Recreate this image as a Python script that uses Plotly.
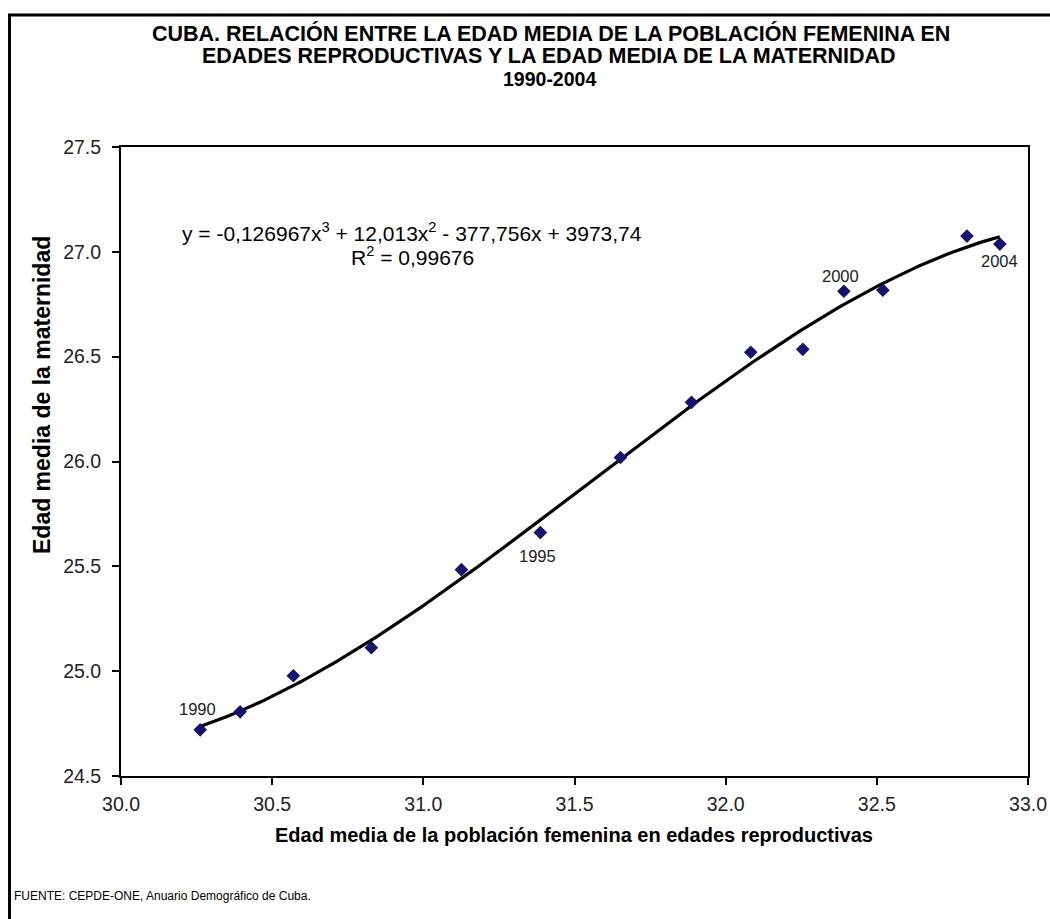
import numpy as np
import plotly.graph_objects as go

# Data
edad_fem = [30.262, 30.394, 30.570, 30.828, 31.126, 31.387, 31.652, 31.887,
            32.083, 32.255, 32.391, 32.520, 32.798, 32.907]
edad_mat = [24.720, 24.806, 24.978, 25.112, 25.484, 25.661, 26.019, 26.282,
            26.521, 26.535, 26.812, 26.817, 27.075, 27.037]
etiquetas = ["1990", "", "", "", "", "1995", "", "", "", "", "2000", "", "", "2004"]

x_ticks = [30.0, 30.5, 31.0, 31.5, 32.0, 32.5, 33.0]
y_ticks = [24.5, 25.0, 25.5, 26.0, 26.5, 27.0, 27.5]

titulo = ["CUBA. RELACIÓN ENTRE LA EDAD MEDIA DE LA POBLACIÓN FEMENINA EN",
          "EDADES REPRODUCTIVAS Y LA EDAD MEDIA DE LA MATERNIDAD",
          "1990-2004"]
ecuacion = ["y = -0,126967x<sup>3</sup> + 12,013x<sup>2</sup> - 377,756x + 3973,74",
            "R<sup>2</sup> = 0,99676"]
titulo_x = "Edad media de la población femenina en edades reproductivas"
titulo_y = "Edad media de la maternidad"
fuente = "FUENTE: CEPDE-ONE, Anuario Demográfico de Cuba."

FONT = "Liberation Sans, Arial, sans-serif"

# Cubic trendline (as Excel does) fitted to the data
coef = np.polyfit(edad_fem, edad_mat, 3)
xs = np.linspace(min(edad_fem), max(edad_fem), 200)
ys = np.polyval(coef, xs)

fig = go.Figure()
fig.add_trace(go.Scatter(x=xs, y=ys, mode="lines",
                         line=dict(color="black", width=3.2), hoverinfo="skip"))
fig.add_trace(go.Scatter(x=edad_fem, y=edad_mat, mode="markers",
                         marker=dict(symbol="diamond", size=10.5, color="#14146e")))

# page body margin is removed in the page (post_script), so screen px == figure px
W, H = 1050, 919
L, R, T, B = 121, 1028, 147, 776
fig.update_layout(
    width=W, height=H,
    margin=dict(l=L, r=W - R, t=T, b=H - B, autoexpand=False),
    paper_bgcolor="white", plot_bgcolor="white",
    showlegend=False,
    font=dict(family=FONT, color="black"),
)
axis_common = dict(ticks="outside", ticklen=7, tickwidth=1.5, tickcolor="black",
                   showline=True, linecolor="black", linewidth=2, mirror=True,
                   showgrid=False, zeroline=False, automargin=False, tickformat=".1f",
                   tickfont=dict(family=FONT, size=19.5, color="#222222"))
fig.update_xaxes(range=[30.0, 33.0], tickvals=x_ticks, ticklabelstandoff=3, **axis_common)
fig.update_yaxes(range=[24.5, 27.5], tickvals=y_ticks, ticklabelstandoff=7, **axis_common)

pw, ph = R - L, B - T
def px(x_screen):
    return (x_screen - L) / pw
def py(y_screen):
    return (B - y_screen) / ph

def texto(t, x, y, size, bold=False, xanchor="center", angle=0, color="black"):
    fig.add_annotation(text=f"<b>{t}</b>" if bold else t, xref="paper", yref="paper",
                       x=px(x), y=py(y), xanchor=xanchor, yanchor="middle",
                       showarrow=False, textangle=angle,
                       font=dict(family=FONT, size=size, color=color))

# title lines
texto(titulo[0], 551, 33, 21.5, bold=True)
texto(titulo[1], 549, 56, 21.5, bold=True)
texto(titulo[2], 549, 79, 19.5, bold=True)
# axis titles
texto(titulo_x, 574, 835, 20, bold=True)
texto(titulo_y, 42, 395, 23, bold=True, angle=-90)
# trendline equation
texto(ecuacion[0], 412, 232, 21)
texto(ecuacion[1], 412, 256, 21)
# source
texto(fuente, 12, 896, 12, xanchor="left")

# year labels next to points
desplaz = {"1990": -21, "1995": 23, "2000": -15, "2004": 17}
for xv, yv, et in zip(edad_fem, edad_mat, etiquetas):
    if et:
        fig.add_annotation(text=et, x=xv, y=yv, xref="x", yref="y",
                           showarrow=False, xanchor="center", yanchor="middle",
                           xshift=-3 if et in ("1990", "1995", "2000") else 0,
                           yshift=-desplaz[et],
                           font=dict(family=FONT, size=16.5, color="#222222"))

# outer chart frame
fig.add_shape(type="rect", xref="paper", yref="paper",
              x0=px(9.5), x1=px(1070), y0=py(960), y1=py(15),
              line=dict(color="black", width=3), fillcolor="rgba(0,0,0,0)", layer="below")

fig.write_html("out.html", config={"displayModeBar": False},
               post_script="document.body.style.margin='0';document.body.style.overflow='hidden';")
